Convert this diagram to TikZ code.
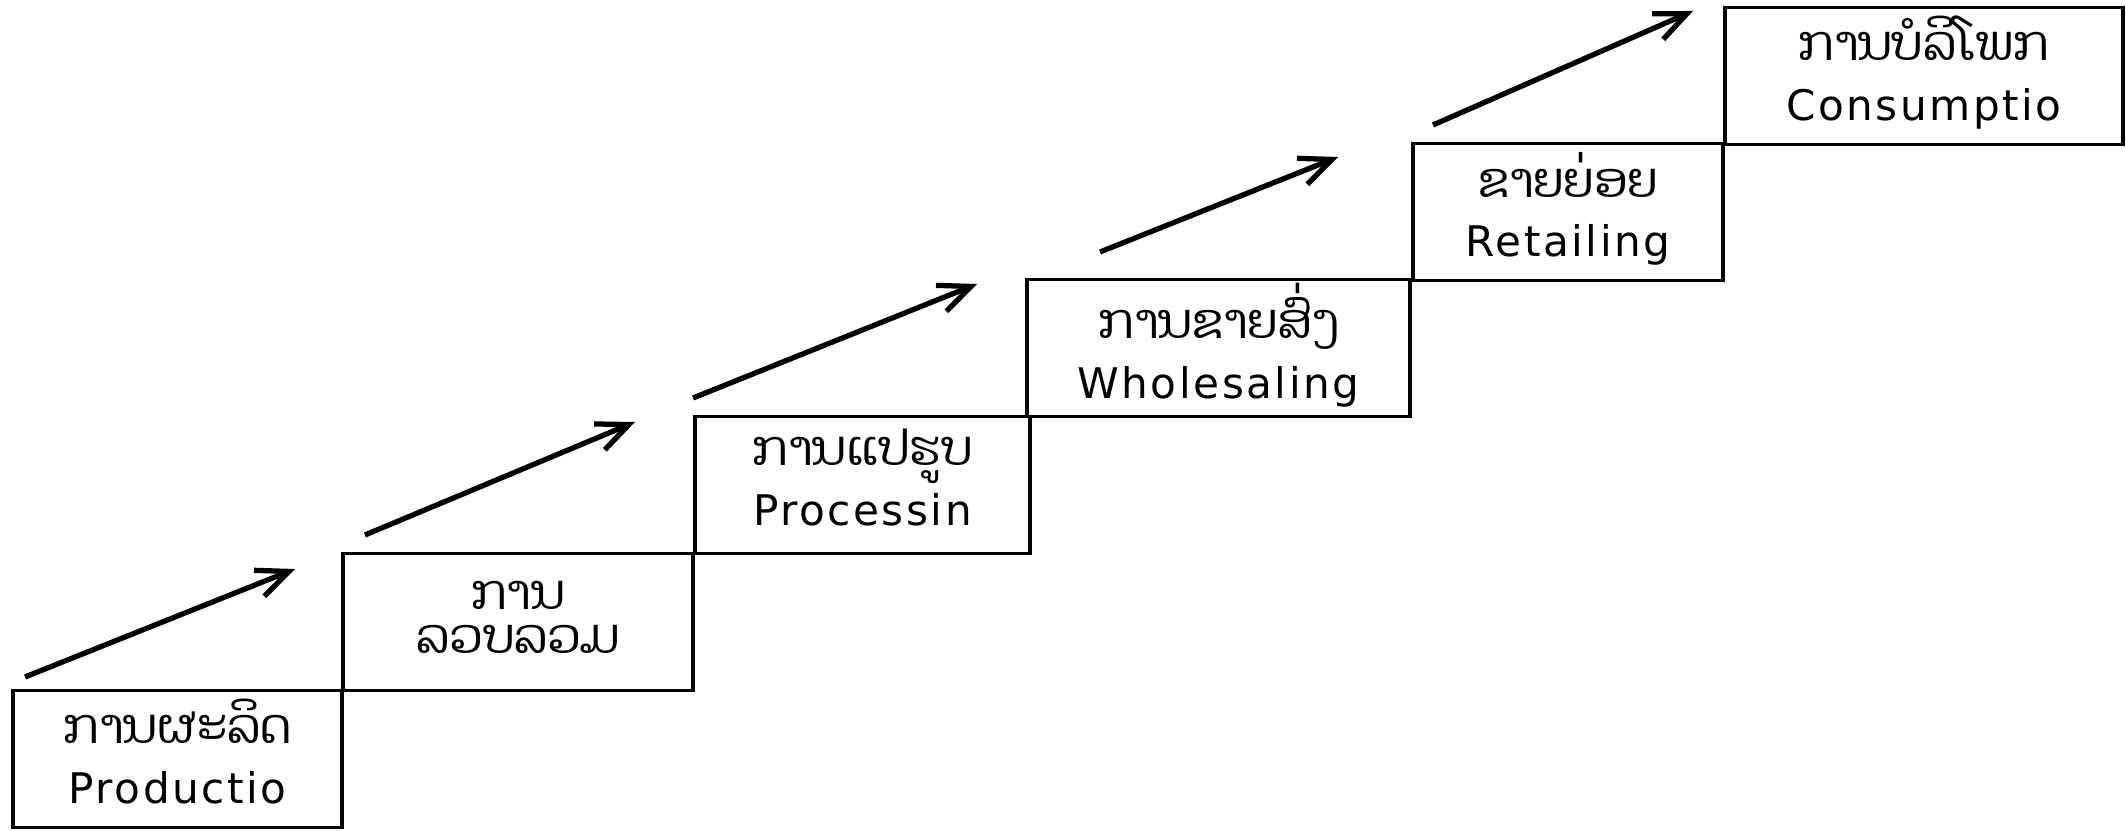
\documentclass[tikz,border=0pt]{standalone}
\usepackage{fontspec}
\setmainfont[LetterSpace=6]{DejaVu Sans}
\newfontfamily\laofont[Script=Lao, Scale=1.15]{Dhyana}
\usetikzlibrary{arrows.meta}
\begin{document}
\begin{tikzpicture}[
  stage/.style={draw, line width=1.1pt, align=center, minimum height=1.37cm, inner sep=0pt, text depth=0.15cm, font=\fontsize{12}{17}\selectfont},
  arrow/.style={-{Straight Barb[length=3.2mm, width=2.8mm]}, line width=1.5pt}
]
\useasboundingbox (0,0) rectangle (21.26,8.31);
\node[stage, minimum width=3.29cm] (prod) at (1.775,0.72) {{\laofont ການຜະລິດ}\\Productio};
\node[stage, minimum width=3.50cm, text depth=0.1cm, font=\fontsize{12}{12.5}\selectfont] (coll) at (5.18,2.09) {{\laofont ການ}\\{\laofont ລວບລວມ}};
\node[stage, minimum width=3.35cm] (proc) at (8.625,3.46) {{\laofont ການແປຮູບ}\\Processin};
\node[stage, minimum width=3.83cm] (whole) at (12.185,4.83) {{\laofont ການຂາຍສົ່ງ}\\Wholesaling};
\node[stage, minimum width=3.10cm] (retail) at (15.68,6.19) {{\laofont ຂາຍຍ່ອຍ}\\Retailing};
\node[stage, minimum width=3.98cm] (cons) at (19.24,7.55) {{\laofont ການບໍລິໂພກ}\\Consumptio};
\coordinate (s1) at (0.25,1.54);   \coordinate (e1) at (2.95,2.62);
\coordinate (s2) at (3.65,2.96);   \coordinate (e2) at (6.35,4.09);
\coordinate (s3) at (6.93,4.33);   \coordinate (e3) at (9.77,5.47);
\coordinate (s4) at (11.00,5.79);  \coordinate (e4) at (13.38,6.74);
\coordinate (s5) at (14.33,7.06);  \coordinate (e5) at (16.93,8.20);
\draw[arrow] (s1) -- (e1);
\draw[arrow] (s2) -- (e2);
\draw[arrow] (s3) -- (e3);
\draw[arrow] (s4) -- (e4);
\draw[arrow] (s5) -- (e5);
\end{tikzpicture}
\end{document}
